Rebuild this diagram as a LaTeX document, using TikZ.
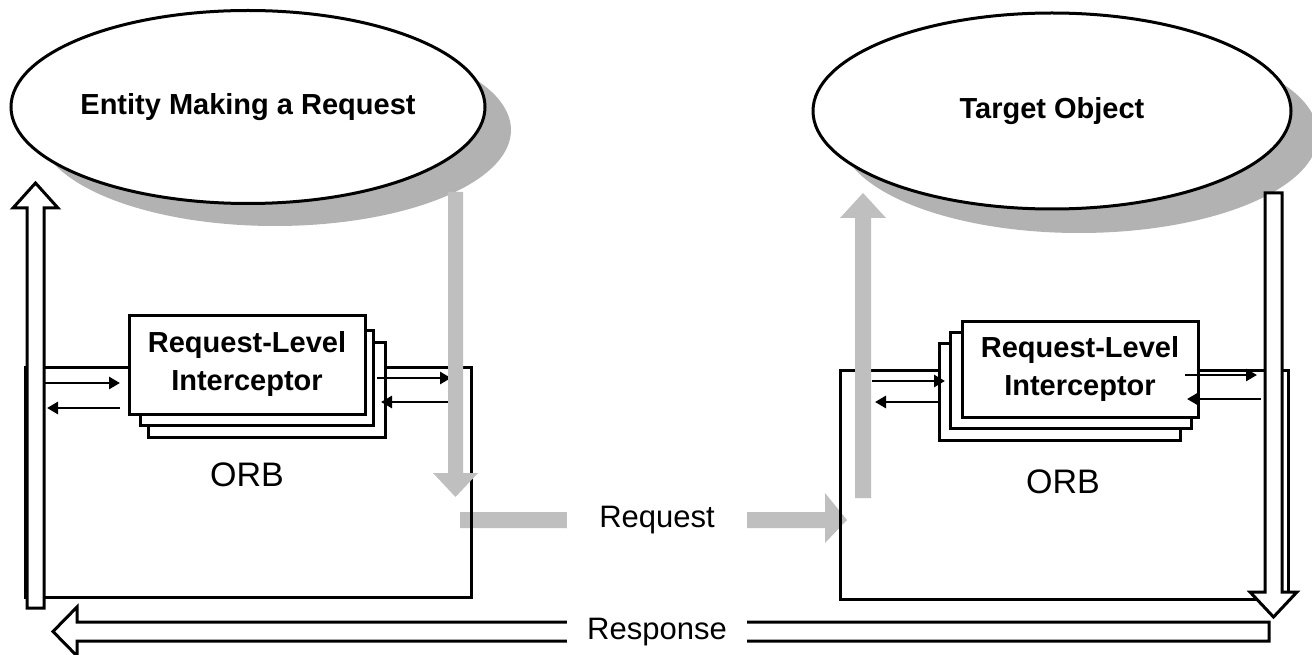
\documentclass[tikz,border=0pt]{standalone}
\usepackage{fontspec}
\setmainfont{Liberation Sans}
\usetikzlibrary{shapes.geometric,arrows.meta}

\tikzset{
  outline/.style={line width=3pt, line join=miter},
  shadowfill/.style={fill=black!30},
  flowfill/.style={fill=black!25},
  bubble/.style={ellipse, draw, outline, fill=white, inner sep=0pt,
                 font=\fontsize{29}{33}\selectfont\bfseries},
  cardbox/.style={draw, outline, fill=white},
  card/.style={draw, outline, fill=white, align=center, inner sep=0pt,
               font=\fontsize{29}{38}\selectfont\bfseries},
  smallarrow/.style={line width=2.7pt, -{Triangle[length=11pt,width=12pt]}},
  hollow/.style={draw, outline, fill=white},
  plainlabel/.style={font=\fontsize{31}{35}\selectfont, inner sep=0pt},
  orblabel/.style={font=\fontsize{34}{38}\selectfont, inner sep=0pt}
}

\begin{document}
\begin{tikzpicture}[x=1pt, y=-1pt]
  \useasboundingbox (0,0) rectangle (1312,655);
  \fill[white] (0,0) rectangle (1312,655);

  % drop shadows of the two ellipses
  \fill[shadowfill] (275,130) ellipse [x radius=236pt, y radius=96pt];
  \fill[shadowfill] (1079,135) ellipse [x radius=239pt, y radius=98pt];

  % the two communicating entities
  \node[bubble, minimum width=472pt, minimum height=193pt] (client) at (248,107)
    {Entity Making a Request};
  \node[bubble, minimum width=478pt, minimum height=196pt] (target) at (1052,111)
    {Target Object};

  % request flow between the ORBs (horizontal part)
  \coordinate (reqB) at (847,520);
  \fill[flowfill] (460,512) -- (825,512) -- (825,493) -- (reqB) -- (825,543)
    -- (825,528) -- (460,528) -- cycle;

  % ORB boxes
  \node[draw, outline, minimum width=446pt, minimum height=230pt, anchor=north west,
        inner sep=0pt] (orbL) at (24,366) {};
  \node[draw, outline, minimum width=448pt, minimum height=229pt, anchor=north west,
        inner sep=0pt] (orbR) at (839,369) {};
  \node[orblabel] (orbLtext) at (247,475) {ORB};
  \node[orblabel] (orbRtext) at (1063,482) {ORB};

  % client-side interceptor stack
  \draw[cardbox] (148,342) rectangle (385,437);
  \draw[cardbox] (140,330) rectangle (373,425);
  \node[card, minimum width=236pt, minimum height=99pt] (ricL) at (247,364.5)
    {Request-Level\\Interceptor};

  % server-side interceptor stack
  \draw[cardbox] (939,343) rectangle (1180,440);
  \draw[cardbox] (950,332) rectangle (1191,428);
  \node[card, minimum width=236pt, minimum height=96pt] (ricR) at (1080,369)
    {Request-Level\\Interceptor};

  % calls into and out of the client-side interceptors
  \draw[smallarrow] (44,383) -- (120,383);
  \draw[smallarrow] (120,408) -- (47,408);
  \draw[smallarrow] (377,378) -- (451,378);
  \draw[smallarrow] (450,402) -- (381,402);

  % calls into and out of the server-side interceptors
  \draw[smallarrow] (872,381) -- (945,381);
  \draw[smallarrow] (939,402) -- (875,402);
  \draw[smallarrow] (1185,375) -- (1257,375);
  \draw[smallarrow] (1261,399) -- (1187,399);

  % request flow: down from the client, up into the target
  \fill[flowfill] (448,192) -- (448,473) -- (433,473) -- (455.5,497) -- (478,473)
    -- (463,473) -- (463,192) -- cycle;
  \fill[flowfill] (855,498) -- (855,218) -- (840,218) -- (863,193) -- (886,218)
    -- (871,218) -- (871,498) -- cycle;

  % response flow: hollow arrows
  \path[hollow] (1265,193) -- (1265,592) -- (1250,592) -- (1273.5,617) -- (1297,592)
    -- (1282,592) -- (1282,193) -- cycle;
  \path[hollow] (1269,622) -- (77,622) -- (77,607) -- (53,631.5) -- (77,656)
    -- (77,641) -- (1269,641) -- cycle;
  \path[hollow] (27,608) -- (27,208) -- (13,208) -- (35.5,183) -- (58,208)
    -- (44,208) -- (44,608) -- cycle;

  % flow labels
  \node[plainlabel, fill=white, minimum width=180pt, minimum height=24pt]
    (reqtext) at (657,520.5) {Request};
  \node[plainlabel, fill=white, minimum width=180pt, minimum height=30pt]
    (restext) at (657,632) {Response};
\end{tikzpicture}
\end{document}
